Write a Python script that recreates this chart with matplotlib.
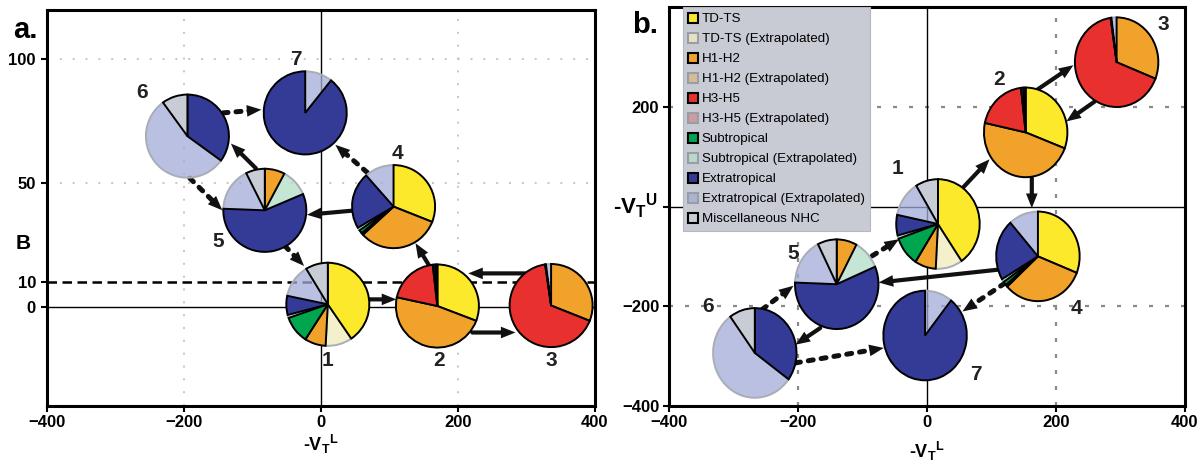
import matplotlib
matplotlib.use('Agg')
import matplotlib.pyplot as plt
from matplotlib.patches import FancyArrowPatch, Patch
from matplotlib.colors import to_rgba

plt.rcParams['font.family'] = ['Liberation Sans', 'DejaVu Sans']
plt.rcParams['mathtext.fontset'] = 'custom'
plt.rcParams['mathtext.rm'] = 'Liberation Sans:bold'
plt.rcParams['mathtext.it'] = 'Liberation Sans:bold'
plt.rcParams['mathtext.bf'] = 'Liberation Sans:bold'

# ---------------- data ----------------
CATEGORIES = ['TD-TS', 'TD-TS (Extrapolated)', 'H1-H2', 'H1-H2 (Extrapolated)',
              'H3-H5', 'H3-H5 (Extrapolated)', 'Subtropical', 'Subtropical (Extrapolated)',
              'Extratropical', 'Extratropical (Extrapolated)', 'Miscellaneous NHC']
EXTRAPOLATED = [False, True, False, True, False, True, False, True, False, True, False]
COLORS = ['#FDE92B', '#F0ECBA', '#F0A22A', '#DBB688', '#E8302E', '#D48B8B',
          '#00A54F', '#B3DEC7', '#333B97', '#A2ABD7', '#C8CCD4']

STAGES = ['1', '2', '3', '4', '5', '6', '7']
# percentage of each category at each stage (stages 1..7)
TD_TS        = [40.4, 30.8, 0.0, 31.0, 0.0, 0.0, 0.0]
TD_TS_EX     = [10.4, 0.0, 0.0, 0.0, 0.0, 0.0, 0.0]
H1_H2        = [8.2, 47.6, 31.0, 32.2, 7.8, 0.0, 0.0]
H1_H2_EX     = [0.0, 0.0, 0.0, 0.0, 0.0, 0.0, 0.0]
H3_H5        = [0.0, 19.8, 66.7, 0.8, 0.0, 0.0, 0.0]
H3_H5_EX     = [0.0, 0.0, 0.0, 0.0, 0.0, 0.0, 0.0]
SUBTROP      = [10.6, 0.0, 0.0, 1.3, 0.0, 0.0, 0.0]
SUBTROP_EX   = [1.2, 0.0, 0.0, 1.2, 10.8, 0.0, 0.0]
EXTRATROP    = [7.4, 1.0, 0.3, 22.0, 57.0, 35.0, 89.3]
EXTRATROP_EX = [13.0, 0.0, 2.0, 11.5, 17.0, 55.0, 10.7]
MISC         = [8.7, 0.8, 0.0, 0.0, 7.4, 10.0, 0.0]
SERIES = [TD_TS, TD_TS_EX, H1_H2, H1_H2_EX, H3_H5, H3_H5_EX,
          SUBTROP, SUBTROP_EX, EXTRATROP, EXTRATROP_EX, MISC]

# pie centres: panel a (-VT_L, B), panel b (-VT_L, -VT_U)
A_X = [10, 170, 336, 106, -82, -195, -23]
A_Y = [1.0, 0.3, 0.5, 40.5, 39.0, 69.0, 78.4]
B_X = [17, 153, 294, 172, -140, -267, -3]
B_Y = [-35, 149, 290, -100, -156, -294, -259]

A_LABEL_X = [10, 173, 336, 112, -150, -261, -36]
A_LABEL_Y = [-21.6, -21.6, -21.6, 62.0, 26.4, 86.5, 99.8]
B_LABEL_X = [-46, 112, 366, 232, -207, -340, 76]
B_LABEL_Y = [77, 256, 365, -204, -95, -200, -338]

# transitions (arrows)
ARROW_DOTTED = [False, False, False, False, False, False, True, True, True, True]
A_ARROW_X0 = [70, 221, 298, 159, 47, -95, -191.5, -52.7, 67.6, -143]
A_ARROW_Y0 = [3, -10.4, 13.5, 16.2, 38.9, 56, 52, 24.6, 54.3, 78.4]
A_ARROW_X1 = [110, 284, 215, 138, -20.5, -131.5, -144, -24.7, 21, -87]
A_ARROW_Y1 = [3, -10.4, 13.5, 25.7, 37.2, 66, 39, 16.5, 65.5, 79.7]
B_ARROW_X0 = [55, 170, 260, 162.5, 108.5, -165.6, -256, -85, 120.6, -204]
B_ARROW_Y0 = [37, 234, 211, 57, -127, -244, -207, -99, -154, -314]
B_ARROW_X1 = [97, 227, 216, 162.5, -75, -204, -207, -43.4, 55, -67]
B_ARROW_Y1 = [95, 284, 171, -3, -152.5, -277.5, -159, -65.5, -210.7, -284]

A_XTICKS = [-400, -200, 0, 200, 400]
A_YTICKS = [0, 10, 50, 100]
B_XTICKS = [-400, -200, 0, 200, 400]
B_YTICKS = [-400, -200, 0, 200]
B_YTICKLABELS = ['\u2212400', '\u2212200', '', '200']

# ---------------- style ----------------
EX_ALPHA = 0.75
EX_EDGE = '#A9ADB5'
PIE_START = [90, 90, 90, 90, 90, 90, 51.5]
A_RX, A_RY = 60.6, 16.8
B_RX, B_RY = 64.7, 90.0

fig = plt.figure(figsize=(11.99, 4.65), dpi=100)
axa = fig.add_axes([0.0392, 0.1275, 0.4570, 0.8510])
axb = fig.add_axes([0.5580, 0.1275, 0.4303, 0.8565])


def draw_pie(ax, cx, cy, rx, ry, vals, start):
    ins = ax.inset_axes([cx - rx, cy - ry, 2 * rx, 2 * ry], transform=ax.transData, zorder=4)
    idx = [i for i, v in enumerate(vals) if v > 0]
    wedges, _ = ins.pie([vals[i] for i in idx], radius=1, startangle=start,
                        counterclock=False, wedgeprops=dict(linewidth=1.4, clip_on=False))
    for w, i in zip(wedges, idx):
        if EXTRAPOLATED[i]:
            w.set_facecolor(to_rgba(COLORS[i], EX_ALPHA))
            w.set_edgecolor(EX_EDGE)
            w.set_zorder(1)
        else:
            w.set_facecolor(COLORS[i])
            w.set_edgecolor('black')
            w.set_zorder(2)
    ins.set_xlim(-1, 1)
    ins.set_ylim(-1, 1)
    ins.set_aspect('auto')
    ins.axis('off')


def draw_arrow(ax, x0, y0, x1, y1, dotted):
    if dotted:
        ls, lw = (0, (1.0, 1.6)), 3.6
    else:
        ls, lw = '-', 3.0
    line = FancyArrowPatch((x0, y0), (x1, y1), arrowstyle='-', lw=lw, linestyle=ls,
                           color='#111111', shrinkA=0, shrinkB=8, mutation_scale=1, zorder=3)
    head = FancyArrowPatch((x0, y0), (x1, y1), arrowstyle='-|>,head_length=10.5,head_width=4.2',
                           lw=0, color='#111111', shrinkA=0, shrinkB=0, mutation_scale=1, zorder=3)
    ax.add_patch(line)
    ax.add_patch(head)


def style_axes(ax):
    for s in ax.spines.values():
        s.set_linewidth(2.2)
    ax.tick_params(direction='out', length=4, width=1.5, labelsize=12, pad=3)
    for lab in ax.get_xticklabels() + ax.get_yticklabels():
        lab.set_fontweight('bold')


# ---------------- panel a ----------------
axa.set_xlim(-400, 400)
axa.set_ylim(-40, 120)
for gx in [-200, 200]:
    axa.axvline(gx, color='#BDBDBD', lw=1.2, ls=(0, (1.2, 6.5)), zorder=0)
for gy in [50, 100]:
    axa.axhline(gy, color='#BDBDBD', lw=1.2, ls=(0, (1.2, 6.5)), zorder=0)
axa.axhline(0, color='black', lw=1.0, zorder=1)
axa.axvline(0, color='black', lw=1.0, zorder=1)
axa.axhline(10, color='black', lw=1.8, ls=(0, (3.8, 2.2)), zorder=1)
axa.set_xticks(A_XTICKS)
axa.set_yticks(A_YTICKS)
axa.set_xticklabels([f'{v}'.replace('-', '\u2212') for v in A_XTICKS])
axa.set_yticklabels([f'{v}' for v in A_YTICKS])
style_axes(axa)
axa.tick_params(axis='y', pad=4)
for k in range(len(STAGES)):
    vals = [s[k] for s in SERIES]
    draw_pie(axa, A_X[k], A_Y[k], A_RX, A_RY, vals, PIE_START[k])
    axa.text(A_LABEL_X[k], A_LABEL_Y[k], STAGES[k], fontsize=15, fontweight='bold',
             ha='center', va='center', color='#222222', zorder=6)
for j in range(len(ARROW_DOTTED)):
    draw_arrow(axa, A_ARROW_X0[j], A_ARROW_Y0[j], A_ARROW_X1[j], A_ARROW_Y1[j], ARROW_DOTTED[j])
axa.set_xlabel('-V$_{\\mathrm{T}}$$^{\\mathrm{L}}$', fontsize=13, fontweight='bold', labelpad=2)
axa.set_ylabel('B', fontsize=15, fontweight='bold', rotation=0, ha='center', va='center')
axa.yaxis.set_label_coords(-0.044, 0.411)

# ---------------- panel b ----------------
axb.set_xlim(-400, 400)
axb.set_ylim(-400, 400)
for gx in [-200, 200]:
    axb.axvline(gx, color='#8A8A8A', lw=1.6, ls=(0, (1.8, 5.4)), zorder=0)
for gy in [-200, 200]:
    axb.axhline(gy, color='#8A8A8A', lw=1.6, ls=(0, (1.8, 5.4)), zorder=0)
axb.axhline(0, color='black', lw=1.0, zorder=1)
axb.axvline(0, color='black', lw=1.0, zorder=1)
axb.set_xticks(B_XTICKS)
axb.set_yticks(B_YTICKS)
axb.set_xticklabels([f'{v}'.replace('-', '\u2212') for v in B_XTICKS])
axb.set_yticklabels(B_YTICKLABELS)
style_axes(axb)
for k in range(len(STAGES)):
    vals = [s[k] for s in SERIES]
    draw_pie(axb, B_X[k], B_Y[k], B_RX, B_RY, vals, PIE_START[k])
    axb.text(B_LABEL_X[k], B_LABEL_Y[k], STAGES[k], fontsize=15, fontweight='bold',
             ha='center', va='center', color='#222222', zorder=8)
for j in range(len(ARROW_DOTTED)):
    draw_arrow(axb, B_ARROW_X0[j], B_ARROW_Y0[j], B_ARROW_X1[j], B_ARROW_Y1[j], ARROW_DOTTED[j])
axb.set_xlabel('-V$_{\\mathrm{T}}$$^{\\mathrm{L}}$', fontsize=13, fontweight='bold', labelpad=7)
axb.set_ylabel('-V$_{\\mathrm{T}}$$^{\\mathrm{U}}$', fontsize=16, fontweight='bold', rotation=0,
               ha='right', va='center')
axb.yaxis.set_label_coords(-0.022, 0.5)

handles = []
for lab, c, ex in zip(CATEGORIES, COLORS, EXTRAPOLATED):
    handles.append(Patch(facecolor=to_rgba(c, EX_ALPHA if ex else 1.0),
                         edgecolor=('#9A9DA5' if ex else 'black'), linewidth=1.5, label=lab))
leg = axb.legend(handles=handles, loc='upper left', bbox_to_anchor=(0.027, 1.0),
                 borderaxespad=0, frameon=True, fancybox=False, facecolor='#C8CBD3',
                 edgecolor='#B5B8C0', framealpha=1, fontsize=9.6, handlelength=0.75,
                 handleheight=0.75, handletextpad=0.25, labelspacing=0.56, borderpad=0.4)
leg.get_frame().set_linewidth(0.8)
leg.set_zorder(7)

fig.text(0.011, 0.918, 'a.', fontsize=21, fontweight='bold', va='baseline', ha='left')
fig.text(0.527, 0.929, 'b.', fontsize=21, fontweight='bold', va='baseline', ha='left')

fig.savefig('out.png', dpi=100)
